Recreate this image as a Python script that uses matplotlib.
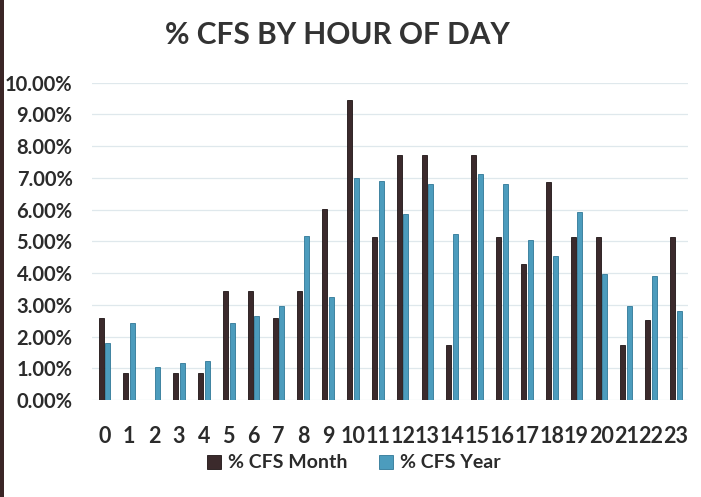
import matplotlib
matplotlib.use("Agg")
import matplotlib.pyplot as plt
from matplotlib.patches import Rectangle
import numpy as np

hours = [str(h) for h in range(24)]
cfs_month = [2.58, 0.86, 0.00, 0.86, 0.86, 3.43, 3.43, 2.58, 3.43, 6.01,
             9.44, 5.15, 7.73, 7.73, 1.72, 7.73, 5.15, 4.29, 6.87, 5.15,
             5.15, 1.72, 2.52, 5.15]
cfs_year = [1.81, 2.44, 1.03, 1.18, 1.24, 2.44, 2.65, 2.97, 5.17, 3.26,
            6.99, 6.90, 5.86, 6.82, 5.23, 7.12, 6.81, 5.04, 4.55, 5.92,
            3.98, 2.97, 3.92, 2.82]
yticks = [0, 1, 2, 3, 4, 5, 6, 7, 8, 9, 10]
series_names = ["% CFS Month", "% CFS Year"]
title = "% CFS BY HOUR OF DAY"

FONT = ["Lato", "DejaVu Sans"]
TXT = "#2b2b2b"
C_MONTH = "#3b2a2c"
C_YEAR = "#4c9cbd"

fig = plt.figure(figsize=(7.01, 4.97), dpi=100)
fig.patch.set_facecolor("white")
ax = fig.add_axes([92 / 701, 1 - 400 / 497, (688.4 - 92) / 701, (400 - 82.7) / 497])

x = np.arange(len(hours))
w = 0.2
off = 0.135
ax.bar(x - off, cfs_month, width=w, color=C_MONTH, edgecolor="#1e1415", linewidth=0.6,
       label=series_names[0], zorder=3)
ax.bar(x + off, cfs_year, width=w, color=C_YEAR, edgecolor="#2f7897", linewidth=0.6,
       label=series_names[1], zorder=3)

ax.set_xlim(-0.5, len(hours) - 0.5)
ax.set_ylim(0, 10)
ax.set_yticks(yticks)
ax.set_yticklabels([f"{v:.2f}%" for v in yticks], fontfamily=FONT, fontsize=14.5,
                   fontweight="bold", color=TXT)
ax.set_xticks(x)
ax.set_xticklabels(hours, fontfamily=FONT, fontsize=15.5, fontweight="bold", color=TXT)
ax.tick_params(axis="y", length=0, pad=14)
ax.tick_params(axis="x", length=0, pad=19)
for s in ax.spines.values():
    s.set_visible(False)
ax.grid(axis="y", color="#dfe8ec", linewidth=0.9, zorder=0)
ax.set_axisbelow(True)

fig.text(337 / 701, 1 - 35 / 497, title, ha="center", va="center",
         fontfamily=FONT, fontsize=21.5, fontweight="bold", color="#333333")

fig.legend(loc="center", bbox_to_anchor=(354 / 701, 1 - 463 / 497), ncol=2,
           frameon=False, handlelength=0.7, handleheight=0.7, handletextpad=0.4,
           columnspacing=1.6,
           prop={"family": FONT, "size": 14, "weight": "bold"}, labelcolor=TXT)

fig.patches.append(Rectangle((0, 0), 4 / 701, 1, transform=fig.transFigure,
                             facecolor="#3a2526", edgecolor="none", zorder=10))

fig.savefig("out.png", dpi=100)
